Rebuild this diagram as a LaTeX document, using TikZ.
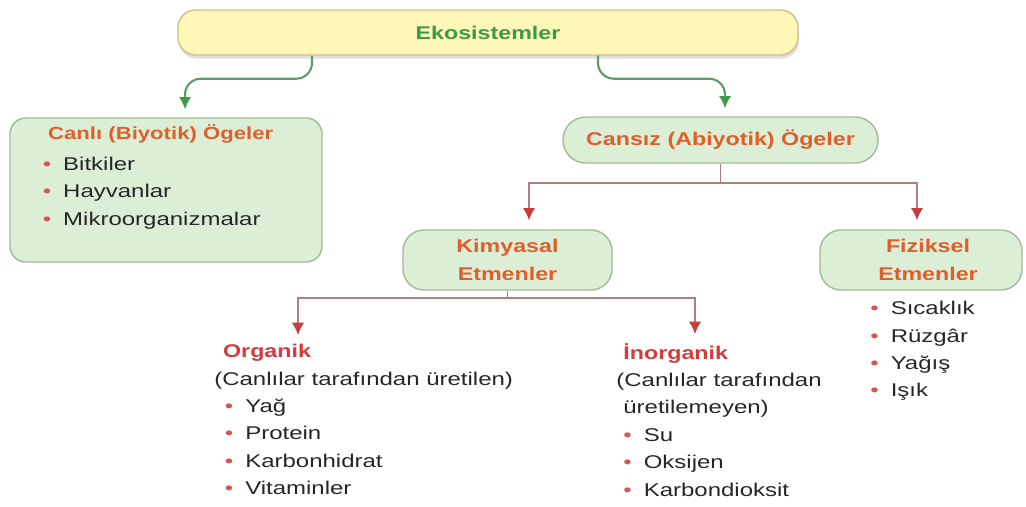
\documentclass[tikz,border=0pt]{standalone}
\usepackage{fontspec}
\setmainfont{Liberation Sans}[FakeStretch=1.3, BoldFeatures={FakeStretch=1.26}]
\usetikzlibrary{positioning,shadows,arrows.meta}
\definecolor{ekogreen}{HTML}{3C9A48}
\definecolor{glinegreen}{HTML}{5E9A6C}
\definecolor{boxgreen}{HTML}{DCEFD6}
\definecolor{boxline}{HTML}{9FBC99}
\definecolor{ekoyellow}{HTML}{FFF7B8}
\definecolor{ekoline}{HTML}{D6BE84}
\definecolor{titleorange}{HTML}{DE5F2C}
\definecolor{titlered}{HTML}{D43C3C}
\definecolor{dotred}{HTML}{D9554F}
\definecolor{arrowred}{HTML}{C63E3C}
\definecolor{rlinegray}{HTML}{AE7F7F}
\definecolor{txtgray}{HTML}{262626}
\newcommand\blt{\textcolor{dotred}{\textbullet}\hspace{0.65em}}
\begin{document}
\begin{tikzpicture}[>={Latex[length=7pt,width=7pt]},
  every node/.style={font=\fontsize{10.5}{15.6}\selectfont, text=txtgray},
  greenbox/.style={draw=boxline, fill=boxgreen, line width=0.8pt},
  boxtitle/.style={font=\fontsize{10.5}{15.6}\selectfont\bfseries, text=titleorange, align=center},
  listtext/.style={align=left, inner sep=0pt, anchor=north west},
  garrow/.style={-{Latex[length=7pt,width=7pt,color=ekogreen]}, glinegreen, line width=1.2pt, rounded corners=9pt, shorten >=0.16cm},
  rline/.style={rlinegray, line width=0.9pt},
  rarrow/.style={rline, -{Latex[length=7pt,width=7pt,color=arrowred]}, shorten >=0.18cm}]
\useasboundingbox (0,0) rectangle (20.52,-10.12);
% ust kutu
\node[draw=ekoline, fill=ekoyellow, rounded corners=10pt, line width=0.8pt,
  drop shadow={shadow xshift=0.5pt, shadow yshift=-2pt, opacity=0.25},
  minimum width=12.4cm, minimum height=0.9cm,
  font=\fontsize{10.5}{15.6}\selectfont\bfseries, text=ekogreen] (eko) at (9.76,-0.65) {Ekosistemler};
% canli ogeler
\node[greenbox, rounded corners=9pt, minimum width=6.24cm, minimum height=2.88cm] (canli) at (3.32,-3.8) {};
\node[listtext] (canlitxt) at (0.85,-2.48)
  {\hspace*{3pt}\textbf{\fontsize{10}{15.6}\selectfont\textcolor{titleorange}{Canlı (Biyotik) Ögeler}}\\[2pt]
   \blt Bitkiler\\ \blt Hayvanlar\\ \blt Mikroorganizmalar};
% cansiz ogeler
\node[greenbox, rounded corners=13pt, minimum width=6.3cm, minimum height=0.92cm, boxtitle] (cansiz) at (14.41,-2.8) {Cansız (Abiyotik) Ögeler};
\node[greenbox, rounded corners=12pt, minimum width=4.18cm, minimum height=1.2cm, boxtitle] (kimya) at (10.15,-5.2) {Kimyasal\\Etmenler};
\node[greenbox, rounded corners=12pt, minimum width=4.04cm, minimum height=1.2cm, boxtitle] (fizik) at (18.42,-5.2) {\hspace*{8pt}Fiziksel\\\hspace*{8pt}Etmenler};
\node[listtext] (fizlist) at (17.4,-6.02)
  {\blt Sıcaklık\\ \blt Rüzgâr\\ \blt Yağış\\ \blt Işık};
% organik / inorganik
\node[listtext] (org) at (4.28,-6.88)
  {\hspace*{5pt}\textbf{\textcolor{titlered}{Organik}}\\
   (Canlılar tarafından üretilen)\\
   \hspace*{6pt}\blt Yağ\\ \hspace*{6pt}\blt Protein\\ \hspace*{6pt}\blt Karbonhidrat\\ \hspace*{6pt}\blt Vitaminler};
\node[listtext] (inorg) at (12.32,-6.86)
  {\hspace*{4pt}\textbf{\textcolor{titlered}{İnorganik}}\\
   (Canlılar tarafından\\
   \hspace*{4pt}üretilemeyen)\\
   \hspace*{4pt}\blt Su\\ \hspace*{4pt}\blt Oksijen\\ \hspace*{4pt}\blt Karbondioksit};
% oklar
\draw[garrow] ([xshift=-3.52cm]eko.south) -- ++(0,-0.46) -| ([xshift=0.38cm]canli.north);
\draw[garrow] ([xshift=2.2cm]eko.south) -- ++(0,-0.46) -| ([xshift=0.09cm]cansiz.north);
\draw[rline] (cansiz.south) -- ++(0,-0.38) coordinate (csplit);
\draw[rarrow] (csplit) -| ([xshift=0.43cm]kimya.north);
\draw[rarrow] (csplit) -| ([xshift=-0.08cm]fizik.north);
\draw[rline] (kimya.south) -- ++(0,-0.14) coordinate (ksplit);
\draw[rarrow] (ksplit) -| ([xshift=1.68cm]org.north west);
\draw[rarrow] (ksplit) -| ([xshift=1.58cm]inorg.north west);
\end{tikzpicture}
\end{document}
